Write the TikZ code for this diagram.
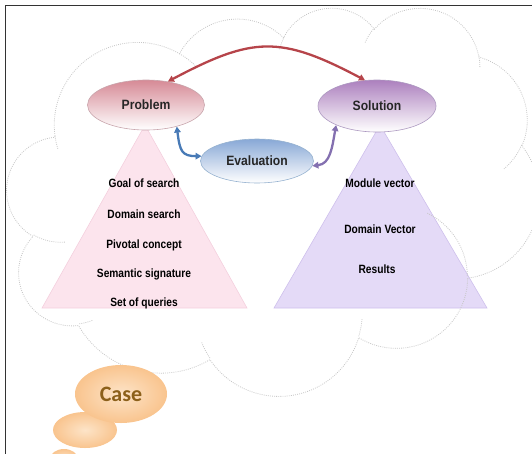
\documentclass[tikz,border=0pt]{standalone}
\usepackage{fontspec}
\setmainfont{Liberation Sans}
\newfontfamily\condfont[FakeStretch=0.85]{Liberation Sans}
\newfontfamily\labelfont[FakeStretch=0.9]{Liberation Sans}
\newfontfamily\casefont{Carlito}
\usetikzlibrary{arrows.meta,shapes.geometric}

% Parametric start/end angles of an elliptic arc given by visual angles
% #1 tag, #2 x radius, #3 y radius, #4 start angle, #5 sweep
\newcommand\cloudangles[5]{%
  \pgfmathsetmacro\cloudtS{atan2((#2)*sin(#4),(#3)*cos(#4))}%
  \pgfmathsetmacro\cloudtE{atan2((#2)*sin((#4)+(#5)),(#3)*cos((#4)+(#5)))}%
  \pgfmathsetmacro\cloudtE{ifthenelse(\cloudtE<\cloudtS,\cloudtE+360,\cloudtE)}%
  \expandafter\xdef\csname cloudS#1\endcsname{\cloudtS}%
  \expandafter\xdef\csname cloudE#1\endcsname{\cloudtE}%
}

\definecolor{probC}{RGB}{214,138,150}
\definecolor{probD}{RGB}{200,165,172}
\definecolor{solC}{RGB}{172,128,190}
\definecolor{solD}{RGB}{172,152,192}
\definecolor{evalC}{RGB}{136,168,214}
\definecolor{evalD}{RGB}{150,178,208}
\definecolor{pinkF}{RGB}{252,228,237}
\definecolor{pinkD}{RGB}{244,208,222}
\definecolor{lavF}{RGB}{228,218,247}
\definecolor{lavD}{RGB}{206,192,236}
\definecolor{redA}{RGB}{182,68,74}
\definecolor{blueA}{RGB}{72,122,182}
\definecolor{purpA}{RGB}{132,112,176}
\definecolor{caseT}{RGB}{140,96,26}
\definecolor{orangeIn}{RGB}{253,228,200}
\definecolor{orangeOut}{RGB}{249,196,142}
\definecolor{cloudG}{RGB}{200,200,200}

\tikzset{
  frameline/.style={line width=1.3pt, draw=black!80},
  cloudline/.style={draw=cloudG, line width=0.8pt, dash pattern=on 0.9pt off 1.2pt},
  oval/.style={ellipse, inner sep=0pt, line width=0.6pt, shading angle=45,
    bottom color=white, font=\labelfont\bfseries\fontsize{13.5}{13.5}\selectfont, text=black!85},
  tritext/.style={inner sep=0pt, font=\condfont\bfseries\fontsize{12}{12}\selectfont},
  bubble/.style={ellipse, inner sep=0pt, inner color=orangeIn, outer color=orangeOut},
  dblarrow/.style={line width=2.3pt, {Triangle[length=6pt,width=6.5pt]}-{Triangle[length=6pt,width=6.5pt]}},
}

\begin{document}
\begin{tikzpicture}[x=1pt,y=-1pt]
\useasboundingbox (0,0) rectangle (532,453);
\clip (0,0) rectangle (532,453);

% outer frame (top and left edges)
\draw[frameline] (533,5.5) -- (5.5,5.5) -- (5.5,454);

% two pyramids
\draw[fill=pinkF, draw=pinkD, line width=0.6pt] (145,125) -- (42,308) -- (247,308) -- cycle;
\draw[fill=lavF, draw=lavD, line width=0.6pt] (380,125) -- (274,308) -- (487,308) -- cycle;

% cloud outline and its inner arcs
\cloudangles{A}{67.53}{91.90}{-190.487}{123.781}
\cloudangles{B}{53.33}{72.67}{-144.102}{89.945}
\cloudangles{C}{43.65}{59.45}{-145.808}{99.723}
\cloudangles{D}{48.57}{65.95}{-130.986}{117.242}
\cloudangles{E}{53.33}{72.73}{-78.709}{109.027}
\cloudangles{F}{67.75}{92.20}{-46.267}{130.269}
\cloudangles{G}{57.85}{78.67}{0.625}{114.033}
\cloudangles{H}{67.52}{92.15}{22.452}{115.173}
\cloudangles{I}{77.20}{105.43}{66.243}{75.711}
\cloudangles{J}{43.60}{59.18}{-274.942}{146.736}
\cloudangles{K}{43.45}{59.45}{-246.829}{152.519}
\cloudangles{a}{43.45}{59.45}{86.742}{26.430}
\cloudangles{b}{43.60}{59.18}{73.610}{11.447}
\cloudangles{c}{67.52}{92.15}{137.624}{14.081}
\cloudangles{d}{67.52}{92.15}{6.453}{15.998}
\cloudangles{e}{57.85}{78.67}{-70.292}{70.917}
\cloudangles{f}{53.33}{72.73}{30.318}{27.752}
\cloudangles{g}{48.57}{65.95}{-13.744}{14.859}
\cloudangles{h}{48.57}{65.95}{-149.181}{18.195}
\cloudangles{i}{43.65}{59.45}{-163.494}{17.686}
\cloudangles{j}{67.53}{91.90}{-66.707}{12.319}
\cloudangles{k}{67.53}{91.90}{157.654}{11.858}
\begin{scope}[shift={(7,7)}, x=1.2315pt, y=-0.8981pt]
\draw[cloudline] (39.00,143.70)
  arc[x radius=67.53, y radius=91.90, start angle=\cloudSA, end angle=\cloudEA]
  arc[x radius=53.33, y radius=72.67, start angle=\cloudSB, end angle=\cloudEB]
  arc[x radius=43.65, y radius=59.45, start angle=\cloudSC, end angle=\cloudEC]
  arc[x radius=48.57, y radius=65.95, start angle=\cloudSD, end angle=\cloudED]
  arc[x radius=53.33, y radius=72.73, start angle=\cloudSE, end angle=\cloudEE]
  arc[x radius=67.75, y radius=92.20, start angle=\cloudSF, end angle=\cloudEF]
  arc[x radius=57.85, y radius=78.67, start angle=\cloudSG, end angle=\cloudEG]
  arc[x radius=67.52, y radius=92.15, start angle=\cloudSH, end angle=\cloudEH]
  arc[x radius=77.20, y radius=105.43, start angle=\cloudSI, end angle=\cloudEI]
  arc[x radius=43.60, y radius=59.18, start angle=\cloudSJ, end angle=\cloudEJ]
  arc[x radius=43.45, y radius=59.45, start angle=\cloudSK, end angle=\cloudEK]
  -- cycle;
\draw[cloudline]
  (46.93,261.77) arc[x radius=43.45, y radius=59.45, start angle=\cloudSa, end angle=\cloudEa]
  (69.28,348.99) arc[x radius=43.60, y radius=59.18, start angle=\cloudSb, end angle=\cloudEb]
  (164.78,390.90) arc[x radius=67.52, y radius=92.15, start angle=\cloudSc, end angle=\cloudEc]
  (288.27,347.51) arc[x radius=67.52, y radius=92.15, start angle=\cloudSd, end angle=\cloudEd]
  (341.29,229.54) arc[x radius=57.85, y radius=78.67, start angle=\cloudSe, end angle=\cloudEe]
  (417.98,153.54) arc[x radius=53.33, y radius=72.73, start angle=\cloudSf, end angle=\cloudEf]
  (383.24,54.26) arc[x radius=48.57, y radius=65.95, start angle=\cloudSg, end angle=\cloudEg]
  (290.78,39.52) arc[x radius=48.57, y radius=65.95, start angle=\cloudSh, end angle=\cloudEh]
  (221.41,47.20) arc[x radius=43.65, y radius=59.45, start angle=\cloudSi, end angle=\cloudEi]
  (140.00,51.92) arc[x radius=67.53, y radius=91.90, start angle=\cloudSj, end angle=\cloudEj]
  (41.27,157.89) arc[x radius=67.53, y radius=91.90, start angle=\cloudSk, end angle=\cloudEk];
\end{scope}

% main ovals
\node[oval, draw=probD, top color=probC, minimum width=117pt, minimum height=50pt] (prob) at (146,105) {Problem};
\node[oval, draw=solD, top color=solC, minimum width=118pt, minimum height=52pt] (sol) at (377,106) {Solution};
\node[oval, draw=evalD, top color=evalC, minimum width=113pt, minimum height=44pt] (eval) at (257,161) {Evaluation};

% connectors
\draw[dblarrow, draw=redA] (prob.47) .. controls +(85,-45) and +(-85,-45) .. (sol.115);
\draw[dblarrow, draw=blueA] (prob.-35) .. controls +(3,24) and +(-20,0) .. (eval.175);
\draw[dblarrow, draw=purpA] (eval.-5) .. controls +(18,-2) and +(-4,22) .. (sol.205);

% pyramid contents
\node[tritext] (goal) at (144,183) {Goal of search};
\node[tritext] (dom)  at (144,214) {Domain search};
\node[tritext] (piv)  at (144,245) {Pivotal concept};
\node[tritext] (sem)  at (144,274) {Semantic signature};
\node[tritext] (set)  at (144,303) {Set of queries};
\node[tritext] (mod)  at (380,183) {Module vector};
\node[tritext] (dvec) at (380,229) {Domain Vector};
\node[tritext] (res)  at (377,269) {Results};

% case bubbles
\node[bubble, minimum width=28pt, minimum height=20pt] (bub3) at (64,459) {};
\node[bubble, minimum width=64pt, minimum height=36pt] (bub2) at (85,430) {};
\node[bubble, minimum width=92pt, minimum height=58pt, text=caseT,
  font=\casefont\bfseries\fontsize{22}{22}\selectfont] (case) at (121,394) {Case};
\end{tikzpicture}
\end{document}
